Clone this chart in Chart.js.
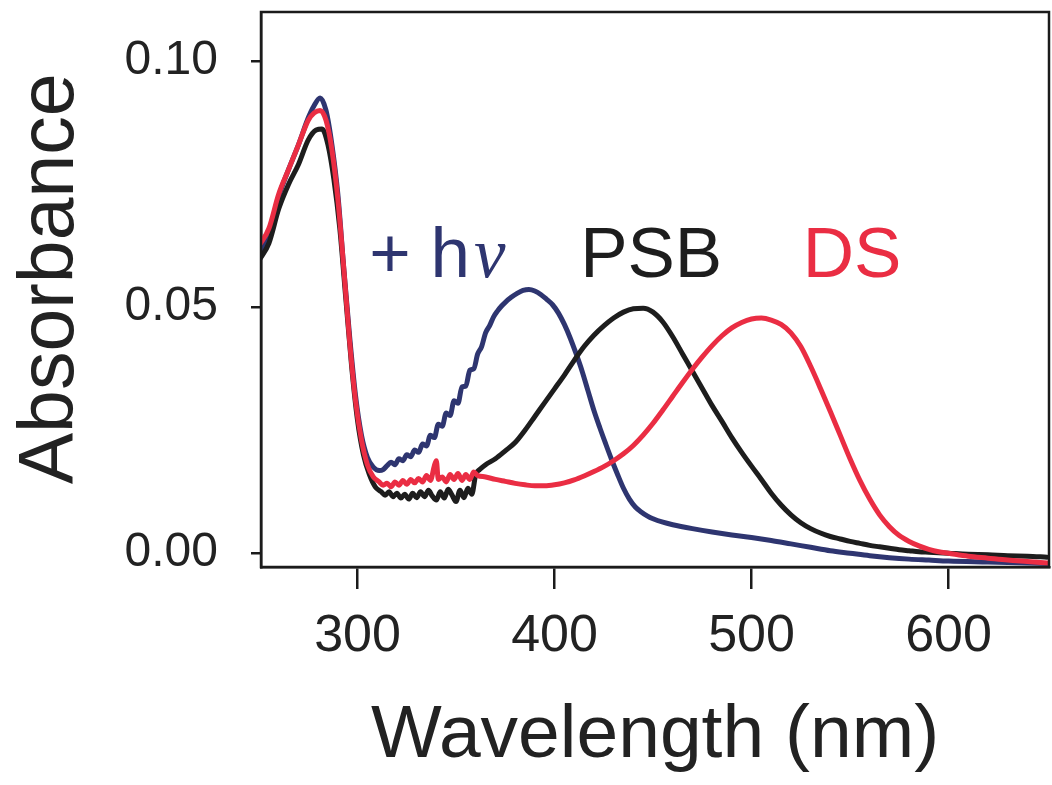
<!DOCTYPE html>
<html lang="en">
<head>
<meta charset="UTF-8">
<title>Absorbance spectra</title>
<script src="https://cdn.jsdelivr.net/npm/chart.js"></script>
<style>
  body { margin: 0; background: #fff; }
  #wrap { width: 1052px; height: 785px; }
</style>
</head>
<body>
<div id="wrap"><canvas id="spectra" width="1052" height="785"></canvas></div>
<script>
// DS spectrum (red)
const dsWl = [250,255,260,265,270,275,278,281,284,287,290,293,296,299,302,305,308,311,
  313,315,317,319,321,323,325,327,329,331,333,335,337,339,340,
  341,343,345,347,349,351,353,355,357,359,361,
  365,370,375,380,385,390,395,400,405,410,415,420,425,430,435,440,445,450,455,460,465,470,
  475,480,485,490,495,500,505,510,515,520,525,530,535,540,545,550,555,560,565,570,575,580,
  585,590,595,600,610,620,630,640,650];
const dsAbs = [0.0625,0.0660,0.0730,0.0780,0.0830,0.0880,0.0895,0.0900,0.0880,0.0820,0.0720,0.0580,0.0430,0.0310,0.0230,0.0180,0.0155,0.0145,
  0.0138,0.0142,0.0135,0.0145,0.0138,0.0148,0.0140,0.0150,0.0143,0.0152,0.0145,0.0158,0.0148,0.0178,0.0188,
  0.0150,0.0155,0.0145,0.0160,0.0150,0.0162,0.0148,0.0160,0.0150,0.0165,0.0158,
  0.0155,0.0150,0.0146,0.0142,0.0139,0.0137,0.0137,0.0139,0.0143,0.0149,0.0157,0.0166,0.0176,0.0188,0.0202,0.0219,0.0240,0.0264,0.0291,0.0319,0.0347,0.0374,
  0.0399,0.0422,0.0442,0.0458,0.0469,0.0476,0.0478,0.0474,0.0465,0.0448,0.0420,0.0380,0.0335,0.0288,0.0240,0.0192,0.0148,0.0110,0.0078,0.0054,0.0036,0.0024,
  0.0015,0.0008,0.0003,0.0000,-0.0006,-0.0010,-0.0014,-0.0017,-0.0020];

// PSB spectrum (black)
const psbWl = [250,255,260,265,270,275,279,282,285,288,291,294,297,300,303,306,309,312,
  314,316,318,320,322,324,326,328,330,332,334,336,338,340,342,344,346,348,350,352,354,356,358,
  360,362,
  365,370,375,380,385,390,395,400,405,410,415,420,425,430,435,440,445,450,455,460,465,470,
  475,480,485,490,495,500,505,510,515,520,525,530,535,540,545,550,555,560,565,570,575,580,
  585,590,595,600,610,620,630,640,650];
const psbAbs = [0.0595,0.0630,0.0700,0.0750,0.0790,0.0840,0.0860,0.0862,0.0830,0.0760,0.0660,0.0520,0.0380,0.0270,0.0200,0.0160,0.0135,0.0125,
  0.0118,0.0125,0.0115,0.0122,0.0112,0.0120,0.0110,0.0122,0.0113,0.0125,0.0115,0.0128,0.0116,0.0108,0.0125,0.0112,0.0130,0.0118,0.0105,0.0128,0.0113,0.0132,0.0120,
  0.0160,0.0170,
  0.0180,0.0192,0.0208,0.0225,0.0250,0.0278,0.0306,0.0334,0.0362,0.0392,0.0420,0.0443,0.0462,0.0478,0.0490,0.0497,0.0498,0.0490,0.0470,0.0440,0.0405,0.0370,
  0.0335,0.0300,0.0268,0.0235,0.0205,0.0177,0.0150,0.0122,0.0098,0.0078,0.0062,0.0050,0.0041,0.0034,0.0029,0.0024,0.0020,0.0016,0.0013,0.0010,0.0007,0.0005,
  0.0003,0.0002,0.0001,0.0000,-0.0002,-0.0003,-0.0005,-0.0006,-0.0008];

// after illumination, + hv (navy)
const hvWl = [250,255,260,265,270,275,278,281,284,287,290,293,296,299,302,305,308,311,313,
  315,317,319,321,323,325,327,329,331,333,335,337,339,341,343,345,347,349,351,353,355,357,359,361,363,365,367,369,371,373,375,
  378,381,384,387,390,393,396,399,402,405,408,411,414,417,420,423,426,429,432,435,438,441,444,447,450,
  455,460,470,480,490,500,510,520,530,540,550,560,570,580,590,600,620,640,650];
const hvAbs = [0.0610,0.0645,0.0725,0.0780,0.0830,0.0885,0.0910,0.0925,0.0900,0.0830,0.0730,0.0580,0.0440,0.0320,0.0240,0.0195,0.0175,0.0168,0.0170,
  0.0178,0.0185,0.0180,0.0192,0.0188,0.0200,0.0196,0.0210,0.0205,0.0222,0.0218,0.0240,0.0235,0.0262,0.0258,0.0285,0.0280,0.0310,0.0305,0.0338,0.0340,0.0372,0.0375,0.0405,0.0420,0.0448,0.0462,0.0480,0.0492,0.0502,0.0510,
  0.0520,0.0528,0.0534,0.0536,0.0533,0.0526,0.0516,0.0505,0.0488,0.0465,0.0437,0.0405,0.0370,0.0330,0.0290,0.0255,0.0222,0.0190,0.0160,0.0132,0.0110,0.0094,0.0084,0.0076,0.0070,
  0.0063,0.0058,0.0050,0.0043,0.0037,0.0032,0.0026,0.0019,0.0012,0.0005,0.0000,-0.0005,-0.0009,-0.0012,-0.0014,-0.0016,-0.0018,-0.0020,-0.0021];

const xTicks = [300, 400, 500, 600];
const yTicks = [0, 0.05, 0.10];

const NAVY = '#2e3570';
const BLACK = '#1d1d1d';
const RED = '#ea2d43';
const INK = '#1b1b1b';
const SANS = '"Liberation Sans", Arial, sans-serif';

const pairs = (xs, ys) => xs.map((v, i) => ({ x: v, y: ys[i] }));

// box around the plot plus the three trace labels
const frameAndLabels = {
  id: 'frameAndLabels',
  afterDatasetsDraw(chart) {
    const { ctx, chartArea: a, scales: { x, y } } = chart;
    ctx.save();
    ctx.strokeStyle = INK;
    ctx.lineWidth = 2.5;
    ctx.strokeRect(a.left, a.top, a.right - a.left, a.bottom - a.top);

    const base = y.getPixelForValue(0.0561);
    ctx.textBaseline = 'alphabetic';
    ctx.textAlign = 'left';

    ctx.font = '71px ' + SANS;
    ctx.fillStyle = NAVY;
    const hx = x.getPixelForValue(306);
    ctx.fillText('+ h', hx, base);
    const hw = ctx.measureText('+ h').width;
    ctx.font = 'italic 71px "Liberation Serif", "DejaVu Serif", serif';
    ctx.fillText('\u03BD', hx + hw + 4, base);

    ctx.font = '71px ' + SANS;
    ctx.fillStyle = BLACK;
    ctx.fillText('PSB', x.getPixelForValue(413), base);
    ctx.fillStyle = RED;
    ctx.fillText('DS', x.getPixelForValue(526), base);
    ctx.restore();
  }
};

new Chart(document.getElementById('spectra'), {
  type: 'line',
  data: {
    datasets: [
      { label: 'DS', data: pairs(dsWl, dsAbs), borderColor: RED, order: 1 },
      { label: 'PSB', data: pairs(psbWl, psbAbs), borderColor: BLACK, order: 2 },
      { label: '+ hv', data: pairs(hvWl, hvAbs), borderColor: NAVY, order: 3 }
    ]
  },
  options: {
    responsive: false,
    animation: false,
    layout: { padding: { top: 12, right: 3, left: 0, bottom: 0 } },
    elements: {
      point: { radius: 0 },
      line: { borderWidth: 5, cubicInterpolationMode: 'monotone', borderJoinStyle: 'round', borderCapStyle: 'round' }
    },
    plugins: { legend: { display: false }, tooltip: { enabled: false } },
    scales: {
      x: {
        type: 'linear',
        min: 251,
        max: 651,
        afterFit: s => { s.height = 218; s.paddingLeft = 0; s.paddingRight = 0; },
        afterBuildTicks: s => { s.ticks = xTicks.map(v => ({ value: v })); },
        grid: { drawOnChartArea: false, drawTicks: true, tickLength: 22, color: INK, lineWidth: 2.5 },
        border: { display: true, color: INK, width: 2.5 },
        ticks: {
          padding: 16,
          color: '#222',
          maxRotation: 0,
          font: { family: SANS, size: 52 }
        },
        title: {
          display: true,
          text: 'Wavelength (nm)',
          color: '#222',
          padding: { top: 0, bottom: 4 },
          font: { family: SANS, size: 75 }
        }
      },
      y: {
        min: -0.0028,
        max: 0.110,
        afterFit: s => { s.width = 261; s.paddingTop = 0; s.paddingBottom = 0; },
        afterBuildTicks: s => { s.ticks = yTicks.map(v => ({ value: v })); },
        grid: { drawOnChartArea: false, drawTicks: true, tickLength: 10, color: INK, lineWidth: 2.5 },
        border: { display: true, color: INK, width: 2.5 },
        ticks: {
          padding: 33,
          color: '#222',
          callback: v => v.toFixed(2),
          font: { family: SANS, size: 48 }
        },
        title: {
          display: true,
          // leading space nudges the rotated title a little above the axis middle
          text: ' Absorbance',
          color: '#222',
          padding: { top: 6, bottom: 0 },
          font: { family: SANS, size: 77 }
        }
      }
    }
  },
  plugins: [frameAndLabels]
});
</script>
</body>
</html>
